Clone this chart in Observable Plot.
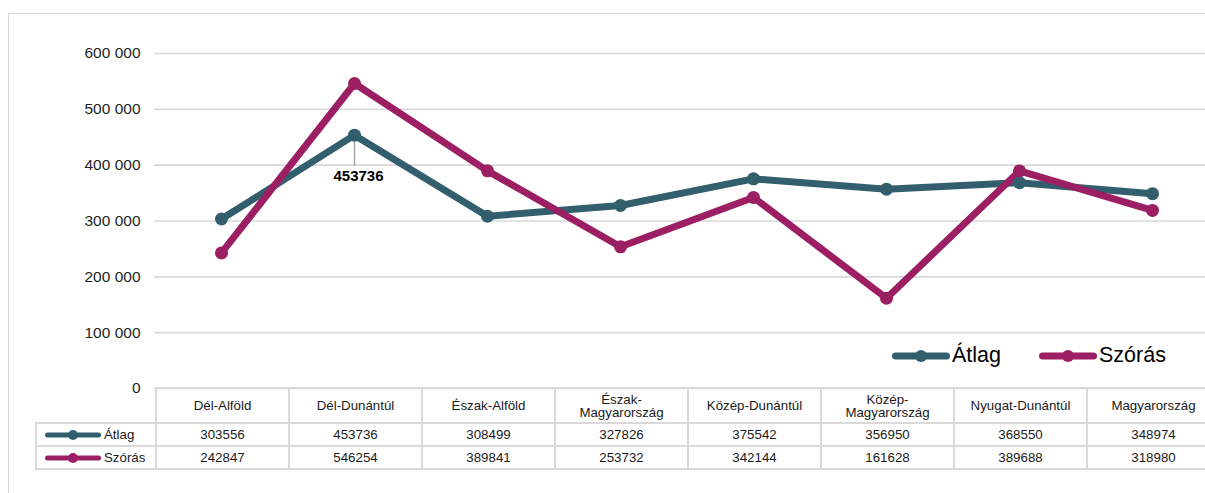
<!DOCTYPE html>
<html>
<head>
<meta charset="utf-8">
<script src="https://cdn.jsdelivr.net/npm/d3@7"></script>
<script src="https://cdn.jsdelivr.net/npm/@observablehq/plot@0.6"></script>
<style>
  html, body { margin: 0; padding: 0; background: #fff; }
  #wrap { position: relative; width: 1205px; height: 493px; overflow: hidden; font-family: "Liberation Sans", Arial, sans-serif; color: #262626; }
  #frame { position: absolute; left: 8px; top: 13px; width: 1400px; height: 700px; border: 1.5px solid #d9d9d9; box-sizing: border-box; }
  #chart { position: absolute; left: 0; top: 0; }
  #legend { position: absolute; top: 343px; left: 892px; display: flex; align-items: center; font-size: 21.5px; color: #000; }
  #legend .item { display: flex; align-items: center; margin-right: 38px; }
  #table { position: absolute; left: 35px; top: 387px; width: 1184px; border-collapse: collapse; table-layout: fixed; font-size: 13.3px; color: #1a1a1a; }
  #table td { border: 2px solid #d9d9d9; text-align: center; padding: 0; line-height: 13px; }
  #table tr.head td { height: 33px; }
  #table tr.row td { height: 21px; }
  #table td.blank { border-left: none; border-top: none; }
  #table td.lab { text-align: left; white-space: nowrap; padding-left: 8px; }
  #table td.lab span { vertical-align: middle; margin-left: 3px; }
</style>
</head>
<body>
<div id="wrap">
  <div id="frame"></div>
  <div id="chart"></div>
  <div id="legend"></div>
  <table id="table"></table>
</div>
<script>
const regions = ["Dél-Alföld", "Dél-Dunántúl", "Észak-Alföld", "Észak-Magyarország", "Közép-Dunántúl", "Közép-Magyarország", "Nyugat-Dunántúl", "Magyarország"];
const regionLabels = ["Dél-Alföld", "Dél-Dunántúl", "Észak-Alföld", "Észak-\nMagyarország", "Közép-Dunántúl", "Közép-\nMagyarország", "Nyugat-Dunántúl", "Magyarország"];
const atlag = [303556, 453736, 308499, 327826, 375542, 356950, 368550, 348974];
const szoras = [242847, 546254, 389841, 253732, 342144, 161628, 389688, 318980];
const seriesNames = ["Átlag", "Szórás"];
const seriesColors = ["#325e6d", "#9c1f63"];
const yTicks = [0, 100000, 200000, 300000, 400000, 500000, 600000];
const labeled = {region: "Dél-Dunántúl", value: 453736};

const data = [];
regions.forEach((r, i) => {
  data.push({region: r, series: seriesNames[0], value: atlag[i]});
  data.push({region: r, series: seriesNames[1], value: szoras[i]});
});

const fmt = v => d3.format(",")(v).replace(/,/g, " ");

const chart = Plot.plot({
  width: 1205,
  height: 390,
  marginLeft: 154,
  marginRight: -14,
  marginTop: 53,
  marginBottom: 2,
  style: {fontFamily: "'Liberation Sans', Arial, sans-serif", fontSize: "15.5px", color: "#1f1f1f", background: "transparent", overflow: "visible"},
  x: {type: "point", domain: regions, padding: 0.5, axis: null},
  y: {domain: [0, 600000], ticks: yTicks, tickFormat: fmt, tickSize: 0, tickPadding: 14, label: null},
  color: {domain: seriesNames, range: seriesColors},
  marks: [
    Plot.ruleY(yTicks, {stroke: "#d9d9d9", strokeWidth: 1.6}),
    Plot.axisY({ticks: yTicks, tickFormat: fmt, tickSize: 0, tickPadding: 14, fontSize: 15.5, label: null}),
    Plot.link([labeled], {x1: "region", x2: "region", y1: d => d.value - 12000, y2: d => d.value - 55000, stroke: "#a6a6a6", strokeWidth: 1.5}),
    Plot.line(data, {x: "region", y: "value", z: "series", stroke: "series", strokeWidth: 7, strokeLinejoin: "round", strokeLinecap: "round"}),
    Plot.dot(data, {x: "region", y: "value", fill: "series", r: 6.5}),
    Plot.text([labeled], {x: "region", y: "value", text: d => String(d.value), dy: 41, dx: 4, fontWeight: "bold", fontSize: 15, fill: "#000"})
  ]
});
document.getElementById("chart").appendChild(chart);

function keySvg(color, w, sw, r) {
  return `<svg width="${w}" height="14" style="vertical-align:middle"><line x1="${sw/2}" y1="7" x2="${w - sw/2}" y2="7" stroke="${color}" stroke-width="${sw}" stroke-linecap="round"/><circle cx="${w/2}" cy="7" r="${r}" fill="${color}"/></svg>`;
}

const legend = document.getElementById("legend");
legend.innerHTML = seriesNames.map((s, i) =>
  `<div class="item">${keySvg(seriesColors[i], 58, 7, 6)}<span style="margin-left:2px">${s}</span></div>`
).join("");

const table = document.getElementById("table");
let html = `<colgroup><col style="width:120px">${regions.map(() => '<col style="width:133px">').join("")}</colgroup>`;
html += `<tr class="head"><td class="blank"></td>${regionLabels.map(l => `<td>${l.replace("\n", "<br>")}</td>`).join("")}</tr>`;
[atlag, szoras].forEach((vals, si) => {
  html += `<tr class="row"><td class="lab">${keySvg(seriesColors[si], 56, 5, 5)}<span>${seriesNames[si]}</span></td>${vals.map(v => `<td>${v}</td>`).join("")}</tr>`;
});
table.innerHTML = html;
</script>
</body>
</html>
